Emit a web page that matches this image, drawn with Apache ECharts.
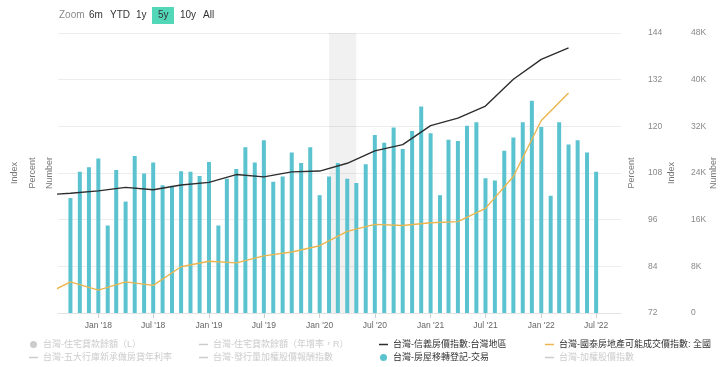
<!DOCTYPE html>
<html>
<head>
<meta charset="utf-8">
<script src="https://cdn.jsdelivr.net/npm/echarts@6/dist/echarts.min.js"></script>
<style>html,body{margin:0;padding:0;background:#fff}#c{width:720px;height:367px}</style>
</head>
<body>
<div id="c"></div>
<script>
// Monthly categories for transfer registrations (bars)
const barMonths = ['2017-10','2017-11','2017-12',
 '2018-01','2018-02','2018-03','2018-04','2018-05','2018-06','2018-07','2018-08','2018-09','2018-10','2018-11','2018-12',
 '2019-01','2019-02','2019-03','2019-04','2019-05','2019-06','2019-07','2019-08','2019-09','2019-10','2019-11','2019-12',
 '2020-01','2020-02','2020-03','2020-04','2020-05','2020-06','2020-07','2020-08','2020-09','2020-10','2020-11','2020-12',
 '2021-01','2021-02','2021-03','2021-04','2021-05','2021-06','2021-07','2021-08','2021-09','2021-10','2021-11','2021-12',
 '2022-01','2022-02','2022-03','2022-04','2022-05','2022-06','2022-07'];
// 台灣-房屋移轉登記-交易 (Number)
const transfers = [19700,24200,25000,
 26500,15000,24500,19100,26900,23900,25800,21900,21800,24300,24200,23500,
 25900,15000,23000,24700,28400,25800,29600,22500,23400,27500,25700,28400,
 20200,23400,25700,23000,22300,25500,30500,29200,31800,28100,31200,35400,
 30800,20200,29700,29500,32100,32700,23100,22700,27800,30100,32700,36400,
 31900,20100,32700,28900,29600,27500,24200];
// Quarterly categories for the two price indices
const quarters = ['2017-07','2017-10','2018-01','2018-04','2018-07','2018-10','2019-01','2019-04','2019-07','2019-10',
 '2020-01','2020-04','2020-07','2020-10','2021-01','2021-04','2021-07','2021-10','2022-01','2022-04'];
// 台灣-信義房價指數:台灣地區 (Index)
const sinyi = [102.3,102.8,103.4,104.3,103.7,104.9,105.6,107.6,107.0,108.3,
 108.5,110.5,113.7,115.3,120.2,122.1,125.2,132.1,137.2,140.2];
// 台灣-國泰房地產可能成交價指數: 全國 (Index)
const cathay = [76.4,80.0,77.9,80.0,79.1,83.9,85.3,84.9,86.7,87.7,
 89.3,93.0,94.8,94.5,95.2,95.5,98.9,107.1,121.5,128.6];
// x-axis tick labels (half-yearly)
const xTicks = ['2018-01','2018-07','2019-01','2019-07','2020-01','2020-07','2021-01','2021-07','2022-01','2022-07'];
const xRange = ['2017-08-21','2022-09-21'];
const shade = ['2020-02-01','2020-05-01'];
const indexTicks = {min:72, max:144, interval:12};
const numberTicks = {min:0, max:48000, interval:8000};
const zoomButtons = ['6m','YTD','1y','5y','10y','All'];
const activeZoom = '5y';

const N = {
  loan: '台灣-住宅貸款餘額（L）',
  loanYoy: '台灣-住宅貸款餘額（年增率，R）',
  rate: '台灣-五大行庫新承做房貸年利率',
  tri: '台灣-發行量加權股價報酬指數',
  sinyi: '台灣-信義房價指數:台灣地區',
  cathay: '台灣-國泰房地產可能成交價指數: 全國',
  trans: '台灣-房屋移轉登記-交易',
  taiex: '台灣-加權股價指數'
};

function ts(s){ const p=s.split('-').map(Number); return Date.UTC(p[0], p[1]-1, p[2]||1); }
const MON=['Jan','Feb','Mar','Apr','May','Jun','Jul','Aug','Sep','Oct','Nov','Dec'];

const FONT = '"Liberation Sans", Arial, "Noto Sans CJK TC", sans-serif';
const CJK = '"Liberation Sans", "Noto Sans CJK TC", sans-serif';
const DASH = 'path://M0,0H12V2H0Z';

const chart = echarts.init(document.getElementById('c'), null, {renderer:'canvas'});

// zoom buttons
const btnX = {'6m':89,'YTD':110,'1y':136,'5y':158,'10y':180,'All':203};
const graphics = [{type:'text', left:59, top:10, style:{text:'Zoom', fill:'#8a8a8a', font:'10px '+FONT}}];
zoomButtons.forEach(b=>{
  if(b===activeZoom){
    graphics.push({type:'rect', shape:{x:152,y:7,width:22,height:17}, style:{fill:'#52d8b9'}});
  }
  graphics.push({type:'text', left:btnX[b], top:10, style:{text:b, fill:'#333', font:'10px '+FONT}});
});

const legendBase = {orient:'vertical', itemWidth:9, itemHeight:7, itemGap:4, inactiveColor:'#cccccc',
  symbolKeepAspect:true, textStyle:{fontSize:9, color:'#333', fontFamily:CJK}, padding:0, selectedMode:true};
const selected = {};
selected[N.loan]=false; selected[N.loanYoy]=false; selected[N.rate]=false; selected[N.tri]=false; selected[N.taiex]=false;
selected[N.sinyi]=true; selected[N.cathay]=true; selected[N.trans]=true;

const axisNameStyle = {fontSize:9, color:'#777', fontFamily:FONT};
const tickFont = 8.5;
function emptyY(name, pos, gap){
  return {type:'value', position:pos, name:name, nameLocation:'middle', nameGap:gap, nameTextStyle:axisNameStyle,
    nameMoveOverlap:false,
    min:0, max:1, axisLine:{show:false}, axisTick:{show:false}, axisLabel:{show:false}, splitLine:{show:false}};
}

const option = {
  animation:false,
  backgroundColor:'#fff',
  graphic: graphics,
  grid:{left:58, right:99, top:33, bottom:54, containLabel:false, outerBoundsMode:'none'},
  legend:[
    Object.assign({}, legendBase, {left:29, top:340, selected, data:[{name:N.loan, icon:'circle'}, {name:N.rate, icon:DASH}]}),
    Object.assign({}, legendBase, {left:199, top:340, selected, data:[{name:N.loanYoy, icon:DASH}, {name:N.tri, icon:DASH}]}),
    Object.assign({}, legendBase, {left:379, top:340, selected, data:[{name:N.sinyi, icon:DASH}, {name:N.trans, icon:'circle'}]}),
    Object.assign({}, legendBase, {left:545, top:340, selected, data:[{name:N.cathay, icon:DASH}, {name:N.taiex, icon:DASH}]})
  ],
  xAxis:{type:'value', min:ts(xRange[0]), max:ts(xRange[1]),
    axisLine:{lineStyle:{color:'#e3e3e3'}},
    axisTick:{show:true, length:5, lineStyle:{color:'#d0d0d0'}, customValues:xTicks.map(ts)},
    axisLabel:{color:'#666', fontSize:tickFont, fontFamily:FONT, margin:8, customValues:xTicks.map(ts),
      formatter:function(v){ const d=new Date(v); return MON[d.getUTCMonth()]+" '"+String(d.getUTCFullYear()).slice(2); }},
    splitLine:{show:false}},
  yAxis:[
    emptyY('Index','left',38.5),
    emptyY('Percent','left',20.5),
    emptyY('Number','left',3.5),
    emptyY('Percent','right',6.5),
    {type:'value', position:'right', name:'Index', nameLocation:'middle', nameGap:46.5, nameTextStyle:axisNameStyle,
      nameMoveOverlap:false,
      min:indexTicks.min, max:indexTicks.max, interval:indexTicks.interval,
      axisLine:{show:false}, axisTick:{show:false},
      axisLabel:{color:'#888', fontSize:tickFont, fontFamily:FONT, margin:27},
      splitLine:{show:true, lineStyle:{color:'#ededed'}}},
    {type:'value', position:'right', name:'Number', nameLocation:'middle', nameGap:88.5, nameTextStyle:axisNameStyle,
      nameMoveOverlap:false,
      min:numberTicks.min, max:numberTicks.max, interval:numberTicks.interval,
      axisLine:{show:false}, axisTick:{show:false},
      axisLabel:{color:'#888', fontSize:tickFont, fontFamily:FONT, margin:70, formatter:v=> v===0?'0':(v/1000)+'K'},
      splitLine:{show:false}}
  ],
  series:[
    {name:N.loan, type:'line', data:[], symbol:'none', yAxisIndex:2, color:'#999'},
    {name:N.rate, type:'line', data:[], symbol:'none', yAxisIndex:1, color:'#999'},
    {name:N.loanYoy, type:'line', data:[], symbol:'none', yAxisIndex:3, color:'#999'},
    {name:N.tri, type:'line', data:[], symbol:'none', yAxisIndex:0, color:'#999'},
    {name:N.taiex, type:'line', data:[], symbol:'none', yAxisIndex:0, color:'#999'},
    {name:N.trans, type:'bar', yAxisIndex:5, barWidth:4, color:'#5ac3cf',
      itemStyle:{color:'#5ac3cf'},
      data: barMonths.map((m,i)=>[ts(m), transfers[i]]),
      markArea:{silent:true, itemStyle:{color:'rgba(0,0,0,0.055)'}, data:[[{xAxis:ts(shade[0])},{xAxis:ts(shade[1])}]]},
      z:2},
    {name:N.sinyi, type:'line', yAxisIndex:4, symbol:'none', color:'#2d2d2d', lineStyle:{width:1.4, color:'#2d2d2d'},
      data: quarters.map((q,i)=>[ts(q), sinyi[i]]), z:3},
    {name:N.cathay, type:'line', yAxisIndex:4, symbol:'none', color:'#ecb54e', lineStyle:{width:1.4, color:'#ecb54e'},
      data: quarters.map((q,i)=>[ts(q), cathay[i]]), z:3}
  ]
};
chart.setOption(option);
</script>
</body>
</html>
